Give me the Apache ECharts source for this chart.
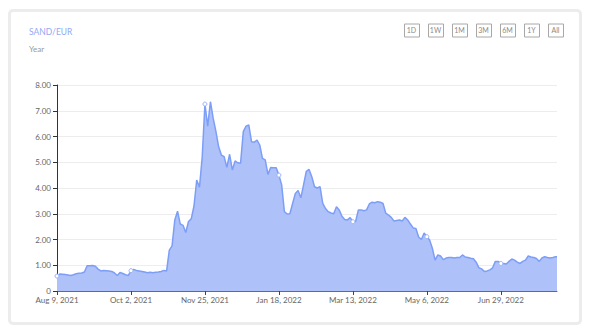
<!DOCTYPE html>
<html>
<head>
<meta charset="utf-8">
<script src="https://cdn.jsdelivr.net/npm/echarts@6/dist/echarts.min.js"></script>
<style>
  html, body { margin: 0; padding: 0; background: #fff; }
  #card { position: absolute; left: 8px; top: 9px; width: 574px; height: 316px; box-sizing: border-box;
          border: 3px solid #ececec; border-radius: 5px; background: #fff; }
  #chart { position: absolute; left: 0; top: 0; width: 590px; height: 332px; }
</style>
</head>
<body>
<div id="card"></div>
<div id="chart"></div>
<script>
// SAND/EUR price, one reading every 2 days from Aug 9, 2021 (last point: Aug 9, 2022)
const startDate = '2021-08-09';
const endDate = '2022-08-09';
const sampleStepDays = 2;
const prices = [
  0.58,0.66,0.65,0.64,0.62,0.60,0.63,0.67,0.69,0.70,
  0.74,0.98,0.98,0.99,0.96,0.85,0.78,0.80,0.79,0.78,
  0.76,0.70,0.60,0.72,0.68,0.63,0.60,0.79,0.84,0.80,
  0.78,0.76,0.74,0.71,0.73,0.71,0.73,0.74,0.76,0.80,
  0.78,1.59,1.75,2.76,3.10,2.60,2.55,2.27,2.70,2.80,
  3.30,4.31,4.03,5.20,7.26,6.40,7.35,6.71,6.20,5.60,
  5.28,5.22,4.80,5.31,4.70,5.05,4.98,4.96,6.19,6.40,
  6.45,5.80,5.78,5.86,5.67,5.15,5.09,4.53,4.80,4.79,
  4.79,4.50,4.12,3.08,2.99,3.00,3.40,3.79,3.90,3.62,
  4.12,4.65,4.72,4.44,4.05,4.00,4.05,3.40,3.20,3.08,
  3.03,3.00,3.27,3.15,2.90,2.78,2.76,2.85,2.69,2.70,
  3.15,3.15,3.12,3.15,3.38,3.45,3.43,3.47,3.45,3.40,
  3.02,2.95,2.86,2.72,2.74,2.76,2.72,2.86,2.76,2.60,
  2.45,2.43,2.10,2.00,2.25,2.11,1.98,1.66,1.20,1.40,
  1.36,1.22,1.28,1.30,1.30,1.28,1.30,1.30,1.40,1.32,
  1.30,1.27,1.25,1.12,0.90,0.86,0.76,0.78,0.82,0.90,
  1.15,1.15,1.07,1.07,1.05,1.15,1.24,1.20,1.12,1.07,
  1.15,1.20,1.36,1.32,1.30,1.26,1.15,1.28,1.33,1.30,
  1.28,1.30,1.33,
  1.33
];
const tickDates = ['2021-08-09','2021-10-02','2021-11-25','2022-01-18','2022-03-13','2022-05-06','2022-06-29'];
const tickLabels = ['Aug 9, 2021','Oct 2, 2021','Nov 25, 2021','Jan 18, 2022','Mar 13, 2022','May 6, 2022','Jun 29, 2022'];
const yTicks = [0,1,2,3,4,5,6,7,8];
const rangeButtons = ['1D','1W','1M','3M','6M','1Y','All'];
const titleText = 'SAND/EUR';
const subtitleText = 'Year';

const DAY = 86400000;
const t0 = new Date(startDate).getTime();
const tEnd = new Date(endDate).getTime();
const sampleTimes = prices.map((_, i) => i === prices.length - 1 ? tEnd : t0 + i * sampleStepDays * DAY);
const seriesData = prices.map((v, i) => [sampleTimes[i], v]);
const tickTimes = tickDates.map(d => new Date(d).getTime());

const FONT = 'Lato, "Noto Sans", sans-serif';
const btnGraphics = [];
rangeButtons.forEach((b, i) => {
  const x = 404 + i * 24;
  btnGraphics.push({ type: 'rect', left: x, top: 23.5, shape: { width: 15, height: 13 },
    style: { fill: '#fff', stroke: '#a8a8a8', lineWidth: 1 } });
  btnGraphics.push({ type: 'text', x: x + 7.5, y: 30, style: { text: b, fill: '#8a8a8a', font: '7px ' + FONT,
    textAlign: 'center', textVerticalAlign: 'middle' } });
});

const chart = echarts.init(document.getElementById('chart'), null, { renderer: 'svg' });
chart.setOption({
  animation: false,
  backgroundColor: 'transparent',
  title: [
    { text: titleText, left: 24, top: 22, textStyle: { fontSize: 8.5, fontWeight: 'normal', color: '#93a8f4', fontFamily: FONT } },
    { text: subtitleText, left: 24, top: 40, textStyle: { fontSize: 8, fontWeight: 'normal', color: '#999999', fontFamily: FONT } }
  ],
  graphic: btnGraphics,
  grid: { left: 57, right: 33, top: 85, bottom: 41 },
  xAxis: {
    type: 'value',
    min: t0,
    max: tEnd,
    axisLine: { lineStyle: { color: '#5b6a94', width: 1 } },
    axisTick: { show: true, customValues: tickTimes, length: 4, lineStyle: { color: '#444' } },
    axisLabel: {
      customValues: tickTimes,
      margin: 5,
      fontSize: 8,
      color: '#666',
      fontFamily: FONT,
      formatter: (v) => { const k = tickTimes.indexOf(v); return k >= 0 ? tickLabels[k] : ''; }
    },
    splitLine: { show: false }
  },
  yAxis: {
    type: 'value',
    min: yTicks[0],
    max: yTicks[yTicks.length - 1],
    interval: 1,
    axisLine: { show: true, lineStyle: { color: '#333' } },
    axisTick: { show: true, length: 4, lineStyle: { color: '#333' } },
    axisLabel: { margin: 6, fontSize: 8, color: '#666', fontFamily: FONT,
      formatter: (v) => v === 0 ? '0' : v.toFixed(2) },
    splitLine: { lineStyle: { color: '#ededed' } }
  },
  series: [{
    type: 'line',
    data: seriesData,
    showSymbol: true,
    showAllSymbol: true,
    symbol: 'circle',
    symbolSize: (val) => tickTimes.indexOf(val[0]) >= 0 ? 4 : 0,
    itemStyle: { color: '#ffffff', borderColor: '#9db3f7', borderWidth: 1 },
    lineStyle: { color: '#7d9ef7', width: 1.5 },
    areaStyle: { color: '#aec1f9', opacity: 1 },
    z: 3
  }]
});
</script>
</body>
</html>
